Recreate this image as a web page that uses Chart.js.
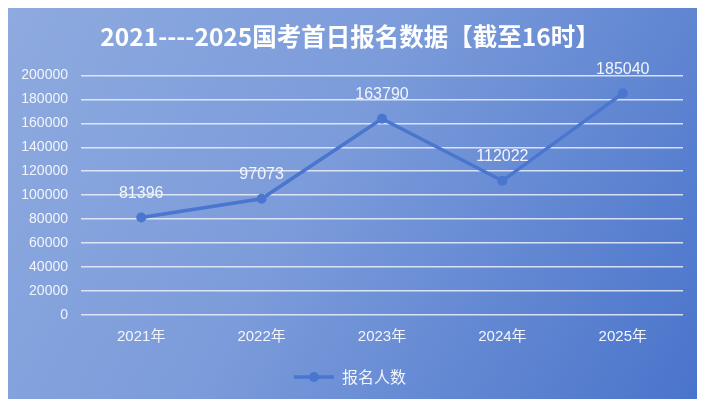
<!DOCTYPE html>
<html>
<head>
<meta charset="utf-8">
<script src="https://cdn.jsdelivr.net/npm/chart.js@4.4.1/dist/chart.umd.min.js"></script>
<style>
  html, body { margin: 0; padding: 0; background: #fff; }
  canvas { display: block; }
</style>
</head>
<body>
<canvas id="chart" width="707" height="410"></canvas>
<script>
// data
const years = ["2021年", "2022年", "2023年", "2024年", "2025年"];
const applicants = [81396, 97073, 163790, 112022, 185040];
const seriesName = "报名人数";
const chartTitle = "2021----2025国考首日报名数据【截至16时】";

const FONT = "'Liberation Sans', 'Noto Sans CJK SC', sans-serif";
const CJK = "'Noto Sans CJK SC', 'Liberation Sans', sans-serif";
const LINE = "#4a76cf";
const TEXT = "#f2f5fc";

// excel-like legend marker: line with a dot on it
function legendMarker() {
    const c = document.createElement("canvas");
    c.width = 40;
    c.height = 12;
    const ctx = c.getContext("2d");
    ctx.strokeStyle = LINE;
    ctx.lineWidth = 3.5;
    ctx.beginPath();
    ctx.moveTo(0, 6);
    ctx.lineTo(40, 6);
    ctx.stroke();
    ctx.fillStyle = LINE;
    ctx.beginPath();
    ctx.arc(20, 6, 5, 0, Math.PI * 2);
    ctx.fill();
    return c;
}
const marker = legendMarker();

const background = {
    id: "background",
    beforeDraw(chart) {
        const ctx = chart.ctx;
        const g = ctx.createLinearGradient(8, 8, 697, 399);
        g.addColorStop(0, "#8eaadf");
        g.addColorStop(0.45, "#7b9bda");
        g.addColorStop(1, "#4a74cb");
        ctx.save();
        ctx.fillStyle = g;
        ctx.fillRect(8, 8, 689, 391);
        ctx.restore();
    }
};

const valueLabels = {
    id: "valueLabels",
    afterDatasetsDraw(chart) {
        const ctx = chart.ctx;
        const meta = chart.getDatasetMeta(0);
        ctx.save();
        ctx.font = "16px " + FONT;
        ctx.fillStyle = TEXT;
        ctx.textAlign = "center";
        ctx.textBaseline = "middle";
        meta.data.forEach((pt, i) => {
            ctx.fillText(String(applicants[i]), pt.x, pt.y - 24);
        });
        ctx.restore();
    }
};

new Chart(document.getElementById("chart"), {
    type: "line",
    data: {
        labels: years,
        datasets: [{
            label: seriesName,
            data: applicants,
            borderColor: LINE,
            backgroundColor: LINE,
            borderWidth: 3.5,
            pointRadius: 5,
            pointHoverRadius: 5,
            pointBackgroundColor: LINE,
            pointBorderWidth: 0,
            tension: 0
        }]
    },
    options: {
        responsive: false,
        animation: false,
        layout: {
            padding: {left: 17, right: 24, top: 0, bottom: 15}
        },
        scales: {
            x: {
                offset: true,
                grid: {display: false, drawTicks: false},
                border: {display: false},
                ticks: {
                    color: TEXT,
                    font: {family: FONT, size: 15},
                    padding: 13,
                    maxRotation: 0
                },
                afterFit(scale) {
                    scale.height = 44;
                }
            },
            y: {
                min: 0,
                max: 200000,
                grid: {
                    color: "rgba(236, 241, 250, 0.85)",
                    lineWidth: 1.5,
                    drawTicks: false
                },
                border: {display: false},
                ticks: {
                    stepSize: 20000,
                    color: TEXT,
                    font: {family: FONT, size: 14},
                    padding: 13,
                    callback: (v) => String(v)
                },
                afterFit(scale) {
                    scale.width = 64;
                }
            }
        },
        plugins: {
            title: {
                display: true,
                text: chartTitle,
                color: "#ffffff",
                font: {family: CJK, size: 24.5, weight: "bold"},
                padding: {top: 22, bottom: 24}
            },
            legend: {
                position: "bottom",
                labels: {
                    usePointStyle: true,
                    pointStyleWidth: 40,
                    color: TEXT,
                    font: {family: CJK, size: 16},
                    padding: 10,
                    generateLabels(chart) {
                        return Chart.defaults.plugins.legend.labels.generateLabels(chart)
                            .map((item) => Object.assign(item, {pointStyle: marker}));
                    }
                }
            },
            tooltip: {enabled: false}
        }
    },
    plugins: [background, valueLabels]
});
</script>
</body>
</html>
